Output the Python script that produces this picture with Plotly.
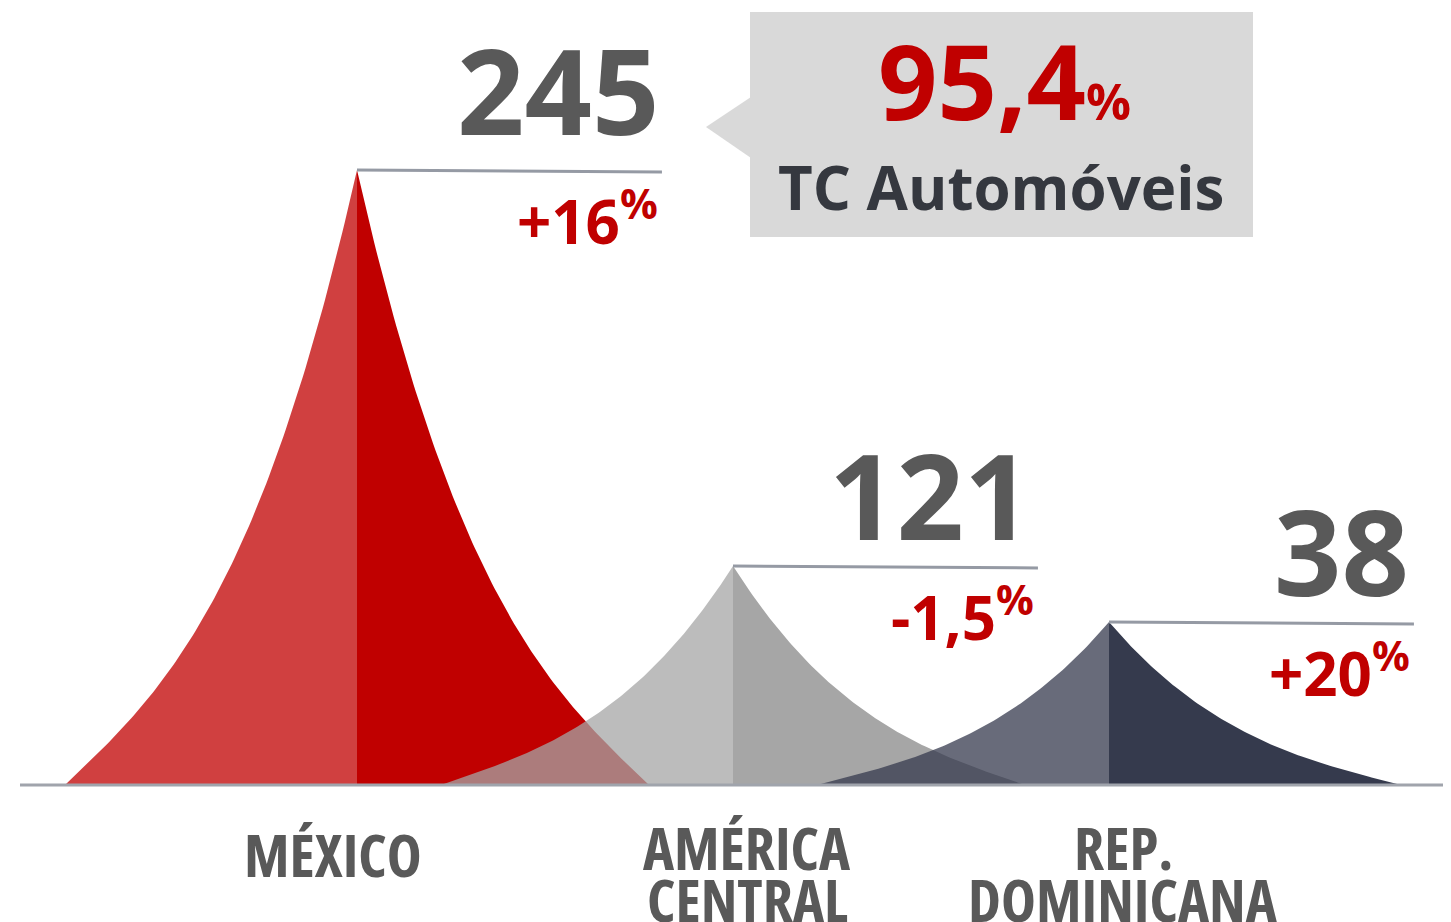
import numpy as np
import plotly.graph_objects as go

# ---- data ----
label_lines = [["MÉXICO"], ["AMÉRICA", "CENTRAL"], ["REP.", "DOMINICANA"]]
values = [245, 121, 38]
changes = ["+16", "-1,5", "+20"]
peak_heights = [615, 219, 163]          # drawn peak heights
highlight_value = "95,4"
highlight_label = "TC Automóveis"

# ---- styles ----
colors = ["#c00000", "#a6a6a6", "#353a4d"]
W, H = 1451, 922
OFF = 8                 # page body margin offset
BASE_PX = 785
PEAK0_PX = 357
STEP_PX = 376
HALF = 292 / STEP_PX
value_offsets = [81, 72, 72]
value_xpos = [0.808, 0.798, 0.803]


def rgba(hexc, a):
    hexc = hexc.lstrip("#")
    r, g, b = int(hexc[0:2], 16), int(hexc[2:4], 16), int(hexc[4:6], 16)
    return f"rgba({r},{g},{b},{a})"


def px(x):
    return (x - OFF) / W


def py(y):
    return 1 - (y - OFF) / H


fig = go.Figure()

u = np.linspace(0, 1, 120)
prof = 0.45 * u + 0.55 * u ** 3

for i, (h, c) in enumerate(zip(peak_heights, colors)):
    # left half (semi-transparent)
    xl = i - HALF + u * HALF
    yl = h * prof
    fig.add_trace(go.Scatter(
        x=np.concatenate([xl, [i, i - HALF]]),
        y=np.concatenate([yl, [0, 0]]),
        fill="toself", fillcolor=rgba(c, 0.75), mode="lines",
        line=dict(width=0), hoverinfo="skip", showlegend=False))
    # right half (opaque)
    xr = i + (1 - u[::-1]) * HALF
    yr = h * prof[::-1]
    fig.add_trace(go.Scatter(
        x=np.concatenate([xr, [i + HALF, i]]),
        y=np.concatenate([yr, [0, 0]]),
        fill="toself", fillcolor=c, mode="lines",
        line=dict(width=0), hoverinfo="skip", showlegend=False))

shapes = []
annotations = []

# baseline
shapes.append(dict(type="line", xref="paper", yref="y", x0=px(20), x1=1, y0=0, y1=0,
                   line=dict(color="#a0a4ac", width=3), layer="above"))

num_font = "Open Sans, Noto Sans, sans-serif"
for i, h in enumerate(peak_heights):
    shapes.append(dict(type="line", xref="x", yref="y", x0=i, x1=i + 0.811, y0=h, y1=h - 2,
                       line=dict(color="#959aa4", width=3), layer="above"))
    annotations.append(dict(
        x=i + value_xpos[i], y=h + value_offsets[i], xref="x", yref="y",
        xanchor="right", yanchor="middle",
        text=str(values[i]), showarrow=False,
        font=dict(family=num_font, size=118, color="#595959", weight="bold")))
    annotations.append(dict(
        x=i + 0.806, y=h - 48, xref="x", yref="y", xanchor="right", yanchor="middle",
        text=f"{changes[i]}<sup>%</sup>", showarrow=False,
        font=dict(family=num_font, size=60, color="#c00000", weight="bold")))

# category labels
lab_font = "Open Sans, DejaVu Sans Condensed, sans-serif"
xshifts = [-24, 14, 14]
for i, lines in enumerate(label_lines):
    ys = [854] if len(lines) == 1 else [847, 899]
    for line, yy in zip(lines, ys):
        annotations.append(dict(
            x=i, y=py(yy), xref="x", yref="paper", xanchor="center", yanchor="middle",
            xshift=xshifts[i],
            text=f"<span style='font-stretch:75%'>{line}</span>", showarrow=False,
            font=dict(family=lab_font, size=59, color="#595959", weight="bold")))

# callout box
shapes.append(dict(type="rect", xref="paper", yref="paper",
                   x0=px(750), x1=px(1253), y0=py(237), y1=py(12),
                   fillcolor="#d9d9d9", line=dict(width=0), layer="below"))
shapes.append(dict(type="path", xref="paper", yref="paper",
                   path=f"M {px(751)} {py(97)} L {px(706)} {py(127)} L {px(751)} {py(158)} Z",
                   fillcolor="#d9d9d9", line=dict(width=0), layer="below"))
annotations.append(dict(
    x=px(1004), y=py(80), xref="paper", yref="paper", xanchor="center", yanchor="middle",
    text=f"{highlight_value}<span style='font-size:50px'>%</span>", showarrow=False,
    font=dict(family=num_font, size=104, color="#c00000", weight="bold")))
annotations.append(dict(
    x=px(1001), y=py(187), xref="paper", yref="paper", xanchor="center", yanchor="middle",
    text=highlight_label, showarrow=False,
    font=dict(family=num_font, size=60, color="#35383f", weight="bold")))

fig.update_layout(
    width=W, height=H, margin=dict(l=0, r=0, t=0, b=0),
    paper_bgcolor="white", plot_bgcolor="white", showlegend=False,
    xaxis=dict(range=[(OFF - PEAK0_PX) / STEP_PX, (W + OFF - PEAK0_PX) / STEP_PX],
               visible=False, fixedrange=True),
    yaxis=dict(range=[BASE_PX - (H + OFF), BASE_PX - OFF], visible=False, fixedrange=True),
    shapes=shapes, annotations=annotations,
)

fig.write_html("out.html")
